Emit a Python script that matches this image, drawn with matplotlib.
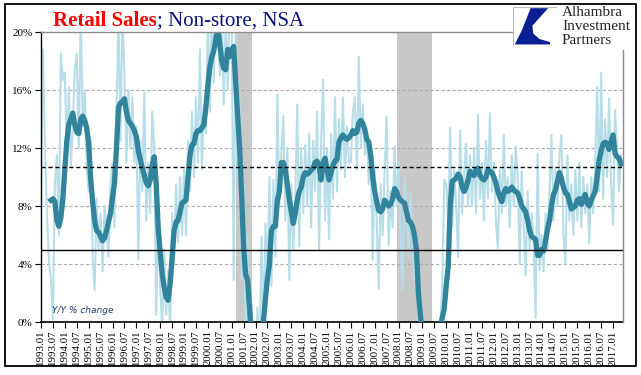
import numpy as np
import matplotlib.pyplot as plt
from matplotlib.patches import Rectangle, Polygon
from matplotlib.lines import Line2D

plt.rcParams["font.family"] = ["Liberation Serif", "DejaVu Serif"]

# monthly data, 1993.01 - 2017.05
nan = np.nan
# Y/Y % change, monthly (thin light line)
yoy_monthly = [
    9.5, 18.8, 12.0, 7.5, 4.2, 3.0, 0.2, 9.6, 11.5, 6.0, 18.5, 16.7,
    17.2, 11.5, 16.2, 10.8, 13.5, 17.4, 18.5, 12.0, 21.5, 13.5, 16.0, 10.5,
    9.0, 12.5, 4.5, 2.2, 8.5, 5.0, 7.5, 3.5, 8.0, 6.5, 4.5, 9.5,
    11.0, 6.5, 14.5, 21.0, 12.5, 21.5, 17.0, 11.0, 16.0, 12.0, 15.5, 11.0,
    13.5, 4.3, 12.5, 9.0, 15.8, 7.0, 11.0, 7.5, 14.5, 12.0, 0.5, 8.0,
    2.5, -0.5, 5.0, 0.5, 3.5, -0.5, 7.5, 4.0, 9.5, 5.5, 10.0, 6.0,
    10.5, 6.0, 12.5, 9.0, 14.5, 10.0, 15.5, 11.0, 18.8, 10.5, 15.0, 13.0,
    21.5, 14.5, 22.0, 16.5, 23.0, 21.5, 17.0, 22.0, 15.0, 21.0, 16.0, 22.0,
    21.0, 2.9, 20.5, 10.0, 15.5, 3.0, 9.5, -1.0, 6.0, -2.0, 1.5, -3.0,
    -4.0, 1.0, -3.0, 5.9, -0.5, 6.8, 3.0, 10.0, 2.5, 9.8, 4.5, 15.7,
    8.0, 11.5, 14.2, 7.0, 12.0, 2.9, 9.5, 5.0, 8.5, 15.0, 5.2, 12.0,
    7.5, 12.2, 8.0, 13.0, 6.5, 12.5, 9.0, 14.5, 5.0, 12.5, 16.7, 7.0,
    12.0, 5.7, 13.0, 8.5, 15.5, 9.0, 14.0, 10.5, 15.5, 10.0, 13.5, 11.0,
    11.0, 14.5, 15.5, 10.5, 18.3, 12.0, 15.0, 11.5, 13.0, 9.5, 12.0, 4.3,
    10.5, 7.0, 2.3, 9.5, 6.0, 10.5, 14.2, 5.3, 9.0, 6.5, 12.1, 8.0,
    11.0, 6.0, 2.2, 10.0, 7.5, 4.5, 9.0, 5.7, 3.0, 5.0, -1.0, 1.0,
    -3.0, -1.0, -4.0, -2.5, -5.0, -2.0, -3.5, -1.0, -2.5, -0.5, 2.5, 9.8,
    9.5, 7.0, 13.4, 6.5, 10.5, 8.0, 4.5, 13.2, 7.5, 10.0, 12.3, 8.0,
    11.5, 8.0, 12.0, 7.5, 14.3, 8.5, 11.0, 7.0, 12.5, 8.5, 14.4, 9.0,
    11.0, 7.0, 5.1, 10.5, 7.5, 12.9, 8.0, 10.0, 6.5, 11.5, 8.0, 12.1,
    10.0, 4.0, 10.4, 7.0, 3.2, 9.0, 5.0, 7.5, 5.5, 0.3, 11.6, 3.6,
    6.0, 3.5, 7.5, 5.0, 9.0, 12.9, 7.0, 10.5, 8.0, 11.5, 12.9, 6.0,
    4.0, 11.5, 7.0, 9.5, 6.0, 10.5, 7.0, 11.0, 6.5, 10.0, 7.5, 9.5,
    5.4, 10.0, 7.5, 11.0, 16.2, 9.0, 17.2, 8.5, 14.0, 10.0, 15.4, 9.5,
    6.7, 14.6, 12.1, 9.0, 11.5,
]
# smoothed Y/Y (thick line)
yoy_avg = [
    nan, nan, nan, nan, nan, 8.4, 8.5, 8.3, 7.0, 6.6, 7.2, 8.5,
    10.5, 12.5, 13.6, 14.0, 14.4, 13.6, 13.1, 13.0, 14.0, 14.2, 13.9, 13.4,
    12.3, 9.9, 8.3, 7.0, 6.3, 6.2, 5.9, 5.6, 5.8, 6.3, 6.9, 7.5,
    8.6, 9.6, 12.0, 14.8, 15.1, 15.2, 15.4, 14.5, 13.9, 13.7, 13.5, 13.2,
    12.8, 11.8, 11.2, 10.6, 10.1, 9.6, 9.4, 9.8, 10.8, 11.4, 9.5, 6.5,
    4.8, 3.3, 2.4, 1.7, 1.5, 2.6, 4.5, 6.3, 6.9, 7.0, 7.6, 8.2,
    8.3, 8.4, 10.0, 11.5, 12.2, 12.3, 13.0, 13.2, 13.2, 13.4, 13.6, 14.8,
    16.3, 17.6, 18.3, 18.7, 19.5, 20.2, 19.2, 18.0, 17.5, 17.4, 18.8, 18.3,
    18.8, 19.0, 16.5, 14.3, 12.0, 8.8, 5.2, 3.3, 2.9, 1.0, -1.0, -2.0,
    -2.5, -2.5, -2.0, -1.0, 0.1, 1.6, 3.0, 4.0, 6.3, 6.6, 6.6, 8.4,
    9.0, 11.0, 11.0, 10.5, 9.5, 8.5, 7.6, 6.8, 7.5, 8.4, 9.0, 9.3,
    10.0, 10.3, 10.2, 10.3, 10.5, 10.6, 11.0, 11.1, 10.8, 9.8, 11.0, 11.3,
    10.5, 9.8, 10.3, 10.8, 11.1, 11.2, 12.4, 12.7, 12.9, 12.7, 12.6, 12.7,
    12.9, 13.2, 13.0, 13.1, 13.7, 13.9, 13.7, 13.3, 12.6, 12.4, 11.5, 10.0,
    9.0, 8.3, 7.7, 7.6, 7.8, 8.4, 8.2, 8.0, 8.1, 8.5, 9.2, 9.0,
    8.6, 8.4, 8.3, 8.2, 7.6, 7.0, 6.9, 6.6, 6.0, 5.0, 2.0, 0.5,
    -1.0, -2.0, -3.0, -3.5, -3.5, -3.0, -2.5, -1.5, -1.2, -0.4, 0.3, 0.9,
    2.5, 3.8, 8.0, 9.7, 9.8, 9.9, 10.2, 10.0, 9.3, 9.0, 9.3, 9.8,
    10.4, 10.2, 10.1, 10.5, 10.6, 10.1, 9.9, 9.8, 10.0, 10.5, 10.4, 10.3,
    10.0, 9.6, 9.0, 8.6, 8.3, 8.9, 9.2, 9.0, 9.1, 9.3, 9.1, 9.0,
    8.9, 8.5, 8.0, 7.8, 7.6, 7.0, 6.3, 5.9, 5.8, 5.7, 4.6, 4.6,
    5.0, 4.9, 5.6, 6.4, 7.0, 8.0, 8.8, 9.1, 9.7, 10.3, 9.9, 9.3,
    8.9, 8.8, 8.3, 7.8, 7.9, 8.0, 8.4, 8.5, 8.1, 8.5, 8.8, 8.2,
    8.0, 8.4, 8.7, 9.0, 10.0, 11.2, 11.8, 12.3, 12.4, 12.3, 11.9, 12.4,
    12.9, 11.6, 11.4, 11.3, 10.9,
]
recessions = [("2001.03", "2001.11"), ("2007.12", "2009.06")]
avg_level = 10.7   # dashed reference
low_level = 5.0    # solid reference
tick_labels = [f"{y}.{m}" for y in range(1993, 2018) for m in ("01", "07")][:-1]
y_ticks = [0, 4, 8, 12, 16, 20]


def month_index(label):
    y, m = label.split(".")
    return (int(y) - 1993) * 12 + int(m) - 1


W, H = 641, 375
fig = plt.figure(figsize=(W / 100, H / 100), dpi=100)
ax = fig.add_axes([41 / W, 1 - 322 / H, 582 / W, 290 / H])

x = np.arange(len(yoy_monthly))
for a, b in recessions:
    ax.axvspan(month_index(a), month_index(b), color="#C8C8C8", lw=0, zorder=0)
for g in y_ticks[1:-1]:
    ax.axhline(g, color="#AAAAAA", lw=0.8, ls=(0, (3, 2)), zorder=1)

ax.plot(x, yoy_monthly, color="#B7DEE8", lw=1.5, zorder=2)
ax.plot(x, yoy_avg, color="#31849B", lw=3.8, zorder=3)
ax.axhline(avg_level, color="black", lw=1, ls=(0, (3, 2)), zorder=4)
ax.axhline(low_level, color="black", lw=1, zorder=4)

ax.set_xlim(0, len(x))
ax.set_ylim(0, 20)
ax.set_yticks(y_ticks)
ax.set_yticklabels([f"{v}%" for v in y_ticks], fontsize=8)
ax.set_xticks(np.arange(len(tick_labels)) * 6)
ax.set_xticklabels(tick_labels, rotation=90, fontsize=7.8)
ax.tick_params(direction="out", length=4, width=0.8, pad=2)
for s in ("top", "right"):
    ax.spines[s].set_visible(False)
ax.spines["left"].set_linewidth(1)
ax.spines["bottom"].set_linewidth(1.2)

ax.text(0.019, 0.03, "Y/Y % change", transform=ax.transAxes, fontsize=6.5,
        style="italic", family="DejaVu Sans", color="#1F3864")

# partial frame around plot
fig.add_artist(Line2D([41 / W, 512 / W], [1 - 32 / H] * 2, color="#8C8C8C", lw=1))
fig.add_artist(Line2D([623 / W] * 2, [1 - 322 / H, 1 - 50 / H], color="#8C8C8C", lw=1))
# outer border
fig.add_artist(Rectangle((5 / W, 1 - 366 / H), 631 / W, 362 / H, fill=False,
                         ec="black", lw=1.3, transform=fig.transFigure))

# title
t1 = fig.text(53 / W, 1 - 25.5 / H, "Retail Sales", color="#FF0000", fontsize=15,
              weight="bold", va="baseline")
ax.annotate("; Non-store, NSA", xy=(1, 0), xycoords=t1, va="bottom",
            color="#0A1478", fontsize=15, annotation_clip=False)

# logo
lax = fig.add_axes([513 / W, 1 - 46 / H, 44 / W, 39 / H])
lax.set_xlim(0, 1)
lax.set_ylim(0, 1)
lax.axis("off")
lax.add_patch(Rectangle((0, 0), 1, 1, fc="white", ec="#BBBBBB", lw=0.8))
lax.add_patch(Polygon([(0.40, 0.97), (0.80, 0.97), (0.44, 0.52), (0.46, 0.32),
                       (0.60, 0.18), (0.84, 0.10), (0.84, 0.04), (0.04, 0.04),
                       (0.20, 0.40)], closed=True, fc="#0A1E96", ec="none"))
for i, word in enumerate(["Alhambra", "Investment", "Partners"]):
    fig.text(562 / W, 1 - (12 + 14.5 * i) / H, word, fontsize=11, va="center",
             color="#262626")

fig.savefig("out.png", dpi=100)
